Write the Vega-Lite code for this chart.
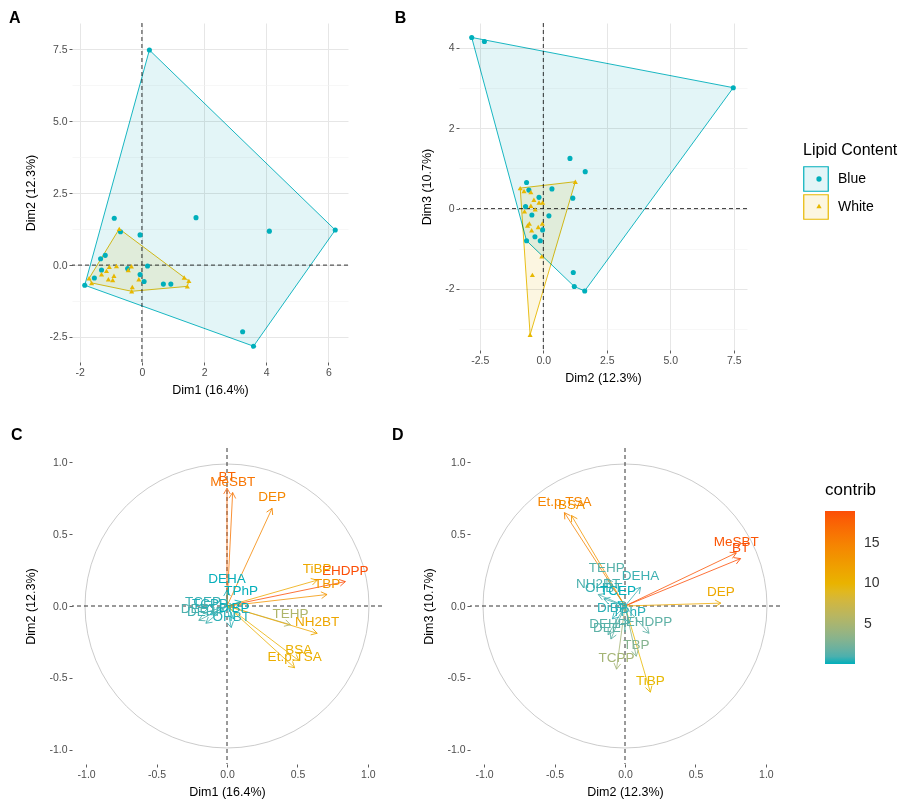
{
  "$schema": "https://vega.github.io/schema/vega-lite/v6.json",
  "background": "white",
  "padding": {"left": 8, "top": 9, "right": 2, "bottom": 2},
  "config": {
    "font": "Liberation Sans",
    "view": {"stroke": null},
    "axis": {"domain": false, "labelColor": "#4D4D4D", "labelFontSize": 10.5, "tickColor": "#333333", "tickSize": 3, "tickWidth": 0.8, "titleFontWeight": "normal", "titleFontSize": 12.5, "titleColor": "#000000", "labelPadding": 2, "titlePadding": 6},
    "axisY": {"titlePadding": 11},
    "title": {"fontSize": 16, "fontWeight": "bold", "anchor": "start", "frame": "bounds", "color": "#000000"},
    "legend": {"titleFontWeight": "normal", "titleColor": "#000000", "labelColor": "#000000"}
  },
  "datasets": {
    "ind": [
      {"id": "b1", "grp": "Blue", "d1": 0.24, "d2": 7.48, "d3": 3.01, "hA": 2, "hB": 2},
      {"id": "b2", "grp": "Blue", "d1": 3.59, "d2": -2.82, "d3": 4.26, "hA": 4, "hB": 1},
      {"id": "b3", "grp": "Blue", "d1": 3.24, "d2": -2.32, "d3": 4.16},
      {"id": "b4", "grp": "Blue", "d1": 1.74, "d2": 1.65, "d3": 0.92},
      {"id": "b5", "grp": "Blue", "d1": -0.89, "d2": 1.63, "d3": -2.05, "hB": 3},
      {"id": "b6", "grp": "Blue", "d1": 6.22, "d2": 1.22, "d3": -1.94, "hA": 3, "hB": 4},
      {"id": "b7", "grp": "Blue", "d1": 4.10, "d2": 1.18, "d3": -1.59},
      {"id": "b8", "grp": "Blue", "d1": -0.69, "d2": 1.16, "d3": 0.26},
      {"id": "b9", "grp": "Blue", "d1": -0.06, "d2": 1.05, "d3": 1.25},
      {"id": "b10", "grp": "Blue", "d1": -1.18, "d2": 0.34, "d3": 0.49},
      {"id": "b11", "grp": "Blue", "d1": -1.33, "d2": 0.22, "d3": -0.18},
      {"id": "b12", "grp": "Blue", "d1": 0.18, "d2": -0.03, "d3": -0.53},
      {"id": "b13", "grp": "Blue", "d1": -0.46, "d2": -0.12, "d3": -0.80},
      {"id": "b14", "grp": "Blue", "d1": -1.30, "d2": -0.17, "d3": 0.28},
      {"id": "b15", "grp": "Blue", "d1": -0.06, "d2": -0.33, "d3": -0.70},
      {"id": "b16", "grp": "Blue", "d1": -1.53, "d2": -0.45, "d3": -0.16},
      {"id": "b17", "grp": "Blue", "d1": 0.07, "d2": -0.57, "d3": 0.46},
      {"id": "b18", "grp": "Blue", "d1": 0.69, "d2": -0.66, "d3": 0.65},
      {"id": "b19", "grp": "Blue", "d1": 0.93, "d2": -0.66, "d3": -0.80, "hB": 5},
      {"id": "b20", "grp": "Blue", "d1": -1.84, "d2": -0.70, "d3": 0.05, "hA": 1},
      {"id": "w1", "grp": "White", "d1": -0.73, "d2": 1.26, "d3": 0.67, "hA": 1, "hB": 2},
      {"id": "w2", "grp": "White", "d1": -0.82, "d2": -0.03, "d3": 0.15},
      {"id": "w3", "grp": "White", "d1": -0.34, "d2": -0.04, "d3": -0.37},
      {"id": "w4", "grp": "White", "d1": -1.05, "d2": -0.06, "d3": -1.19},
      {"id": "w5", "grp": "White", "d1": -0.44, "d2": -0.17, "d3": 0.15},
      {"id": "w6", "grp": "White", "d1": -1.14, "d2": -0.20, "d3": -0.46},
      {"id": "w7", "grp": "White", "d1": -1.30, "d2": -0.32, "d3": -0.02},
      {"id": "w8", "grp": "White", "d1": -0.90, "d2": -0.37, "d3": 0.22},
      {"id": "w9", "grp": "White", "d1": 1.36, "d2": -0.43, "d3": -1.65},
      {"id": "w10", "grp": "White", "d1": -1.70, "d2": -0.46, "d3": -0.54, "hA": 6},
      {"id": "w11", "grp": "White", "d1": -1.08, "d2": -0.49, "d3": 0.41},
      {"id": "w12", "grp": "White", "d1": -0.10, "d2": -0.49, "d3": 0.07},
      {"id": "w13", "grp": "White", "d1": -0.94, "d2": -0.52, "d3": -3.14, "hB": 3},
      {"id": "w14", "grp": "White", "d1": 1.51, "d2": -0.55, "d3": -0.37, "hA": 2},
      {"id": "w15", "grp": "White", "d1": -1.62, "d2": -0.62, "d3": -0.42, "hA": 5},
      {"id": "w16", "grp": "White", "d1": 1.46, "d2": -0.74, "d3": -0.07, "hA": 3},
      {"id": "w17", "grp": "White", "d1": -0.31, "d2": -0.76, "d3": 0.44},
      {"id": "w18", "grp": "White", "d1": -0.33, "d2": -0.91, "d3": 0.51, "hA": 4, "hB": 1}
    ],
    "vars": [
      {"name": "BT", "d1": 0.00, "d2": 0.82, "d3": 0.33, "cC": 13.0, "cD": 18.9},
      {"name": "MeSBT", "d1": 0.04, "d2": 0.79, "d3": 0.37, "cC": 12.1, "cD": 18.4},
      {"name": "DEP", "d1": 0.32, "d2": 0.68, "d3": 0.02, "cC": 10.9, "cD": 11.2},
      {"name": "EHDPP", "d1": 0.84, "d2": 0.17, "d3": -0.19, "cC": 14.2, "cD": 1.57},
      {"name": "TiBP", "d1": 0.64, "d2": 0.18, "d3": -0.60, "cC": 8.5, "cD": 9.5},
      {"name": "TBP", "d1": 0.71, "d2": 0.08, "d3": -0.35, "cC": 9.9, "cD": 3.1},
      {"name": "TEHP", "d1": 0.45, "d2": -0.13, "d3": 0.19, "cC": 4.2, "cD": 1.28},
      {"name": "NH2BT", "d1": 0.64, "d2": -0.19, "d3": 0.08, "cC": 8.6, "cD": 1.03},
      {"name": "BSA", "d1": 0.51, "d2": -0.38, "d3": 0.63, "cC": 7.8, "cD": 13.1},
      {"name": "Et.p.TSA", "d1": 0.48, "d2": -0.43, "d3": 0.65, "cC": 8.0, "cD": 14.7},
      {"name": "DEHA", "d1": 0.00, "d2": 0.11, "d3": 0.13, "cC": 0.23, "cD": 0.70},
      {"name": "OHBT", "d1": 0.03, "d2": -0.15, "d3": 0.05, "cC": 0.45, "cD": 0.60},
      {"name": "TCEP", "d1": -0.17, "d2": -0.05, "d3": 0.03, "cC": 0.61, "cD": 0.08},
      {"name": "DEET", "d1": -0.20, "d2": -0.10, "d3": -0.23, "cC": 0.97, "cD": 1.52},
      {"name": "DEHP", "d1": -0.15, "d2": -0.12, "d3": -0.20, "cC": 0.71, "cD": 1.31},
      {"name": "DiBP", "d1": 0.05, "d2": -0.09, "d3": -0.09, "cC": 0.21, "cD": 0.39},
      {"name": "TPhP", "d1": 0.10, "d2": 0.03, "d3": -0.12, "cC": 0.22, "cD": 0.37},
      {"name": "TCPP", "d1": -0.12, "d2": -0.06, "d3": -0.44, "cC": 0.35, "cD": 4.76}
    ]
  },
  "spacing": 30,
  "resolve": {"scale": {"color": "independent", "fill": "independent", "stroke": "independent", "shape": "independent"}, "legend": {"color": "independent", "fill": "independent", "stroke": "independent", "shape": "independent"}},
  "vconcat": [
    {
      "spacing": 45,
      "resolve": {"scale": {"color": "independent", "fill": "independent", "stroke": "independent", "shape": "independent"}, "legend": {"color": "independent", "fill": "independent", "stroke": "independent", "shape": "independent"}},
      "hconcat": [
        {
          "width": 276, "height": 339,
          "title": {"text": "A", "offset": -3, "dx": -16},
          "layer": [
            {
              "data": {"name": "ind"},
              "transform": [{"filter": "isValid(datum.hA)"}],
              "mark": {"type": "line", "interpolate": "linear-closed", "strokeWidth": 0.9, "blend": "multiply"},
              "encoding": {
                "x": {"field": "d1", "type": "quantitative", "title": "Dim1 (16.4%)", "scale": {"domain": [-2.25, 6.63], "nice": false, "zero": false},
                  "axis": {"values": [-2, -1, 0, 1, 2, 3, 4, 5, 6], "labelExpr": "abs(datum.value % 2) < 0.001 ? replace(format(datum.value, 'd'), '\u2212', '-') : ''",
                    "gridColor": {"condition": {"test": "abs(datum.value % 2) < 0.001", "value": "#E6E6E6"}, "value": "#F1F1F1"},
                    "gridWidth": {"condition": {"test": "abs(datum.value % 2) < 0.001", "value": 1}, "value": 0.6},
                    "tickOpacity": {"condition": {"test": "abs(datum.value % 2) < 0.001", "value": 1}, "value": 0}}},
                "y": {"field": "d2", "type": "quantitative", "title": "Dim2 (12.3%)", "scale": {"domain": [-3.37, 8.42], "nice": false, "zero": false},
                  "axis": {"values": [-2.5, -1.25, 0, 1.25, 2.5, 3.75, 5, 6.25, 7.5], "labelExpr": "abs(datum.value % 2.5) < 0.001 ? replace(format(datum.value, '.1f'), '\u2212', '-') : ''",
                    "gridColor": {"condition": {"test": "abs(datum.value % 2.5) < 0.001", "value": "#E6E6E6"}, "value": "#F1F1F1"},
                    "gridWidth": {"condition": {"test": "abs(datum.value % 2.5) < 0.001", "value": 1}, "value": 0.6},
                    "tickOpacity": {"condition": {"test": "abs(datum.value % 2.5) < 0.001", "value": 1}, "value": 0}}},
                "order": {"field": "hA", "type": "quantitative"},
                "stroke": {"field": "grp", "type": "nominal", "scale": {"range": ["#00AFBB", "#E7B800"]}, "legend": null},
                "fill": {"field": "grp", "type": "nominal", "scale": {"range": ["#E3F5F7", "#FCF6E1"]}, "legend": null}
              }
            },
            {
              "data": {"values": [{}]},
              "mark": {"type": "rule", "strokeDash": [4, 3], "color": "#000000", "strokeWidth": 0.8},
              "encoding": {"x": {"datum": 0, "type": "quantitative", "scale": {"domain": [-2.25, 6.63], "nice": false, "zero": false}}}
            },
            {
              "data": {"values": [{}]},
              "mark": {"type": "rule", "strokeDash": [4, 3], "color": "#000000", "strokeWidth": 0.8},
              "encoding": {"y": {"datum": 0, "type": "quantitative", "scale": {"domain": [-3.37, 8.42], "nice": false, "zero": false}}}
            },
            {
              "data": {"name": "ind"},
              "mark": {"type": "point", "filled": true, "size": 26, "opacity": 1},
              "encoding": {
                "x": {"field": "d1", "type": "quantitative", "title": "Dim1 (16.4%)", "scale": {"domain": [-2.25, 6.63], "nice": false, "zero": false}},
                "y": {"field": "d2", "type": "quantitative", "title": "Dim2 (12.3%)", "scale": {"domain": [-3.37, 8.42], "nice": false, "zero": false}},
                "color": {"field": "grp", "type": "nominal", "scale": {"domain": ["Blue", "White"], "range": ["#00AFBB", "#E7B800"]}, "legend": null},
                "shape": {"field": "grp", "type": "nominal", "scale": {"domain": ["Blue", "White"], "range": ["circle", "triangle-up"]}, "legend": null}
              }
            }
          ]
        },
        {
          "width": 288, "height": 327,
          "title": {"text": "B", "offset": -3, "dx": -26},
          "layer": [
            {
              "data": {"name": "ind"},
              "transform": [{"filter": "isValid(datum.hB)"}],
              "mark": {"type": "line", "interpolate": "linear-closed", "strokeWidth": 0.9, "blend": "multiply"},
              "encoding": {
                "x": {"field": "d2", "type": "quantitative", "title": "Dim2 (12.3%)", "scale": {"domain": [-3.32, 8.02], "nice": false, "zero": false},
                  "axis": {"values": [-2.5, -1.25, 0, 1.25, 2.5, 3.75, 5, 6.25, 7.5], "labelExpr": "abs(datum.value % 2.5) < 0.001 ? replace(format(datum.value, '.1f'), '\u2212', '-') : ''",
                    "gridColor": {"condition": {"test": "abs(datum.value % 2.5) < 0.001", "value": "#E6E6E6"}, "value": "#F1F1F1"},
                    "gridWidth": {"condition": {"test": "abs(datum.value % 2.5) < 0.001", "value": 1}, "value": 0.6},
                    "tickOpacity": {"condition": {"test": "abs(datum.value % 2.5) < 0.001", "value": 1}, "value": 0}}},
                "y": {"field": "d3", "type": "quantitative", "title": "Dim3 (10.7%)", "scale": {"domain": [-3.52, 4.62], "nice": false, "zero": false},
                  "axis": {"values": [-3, -2, -1, 0, 1, 2, 3, 4], "labelExpr": "abs(datum.value % 2) < 0.001 ? replace(format(datum.value, 'd'), '\u2212', '-') : ''",
                    "gridColor": {"condition": {"test": "abs(datum.value % 2) < 0.001", "value": "#E6E6E6"}, "value": "#F1F1F1"},
                    "gridWidth": {"condition": {"test": "abs(datum.value % 2) < 0.001", "value": 1}, "value": 0.6},
                    "tickOpacity": {"condition": {"test": "abs(datum.value % 2) < 0.001", "value": 1}, "value": 0}}},
                "order": {"field": "hB", "type": "quantitative"},
                "stroke": {"field": "grp", "type": "nominal", "scale": {"range": ["#00AFBB", "#E7B800"]},
                  "legend": {"title": "Lipid Content", "orient": "none", "legendX": 344, "legendY": 119, "padding": 0, "symbolType": "square", "symbolSize": 600, "symbolStrokeWidth": 1.2, "titleFontSize": 16, "labelFontSize": 14, "titlePadding": 8, "rowPadding": -4, "labelOffset": 9}},
                "fill": {"field": "grp", "type": "nominal", "scale": {"range": ["#E3F5F7", "#FCF6E1"]},
                  "legend": {"title": "Lipid Content", "orient": "none", "legendX": 344, "legendY": 119, "padding": 0, "symbolType": "square", "symbolSize": 600, "symbolStrokeWidth": 1.2, "titleFontSize": 16, "labelFontSize": 14, "titlePadding": 8, "rowPadding": -4, "labelOffset": 9}}
              }
            },
            {
              "data": {"values": [{}]},
              "mark": {"type": "rule", "strokeDash": [4, 3], "color": "#000000", "strokeWidth": 0.8},
              "encoding": {"x": {"datum": 0, "type": "quantitative", "scale": {"domain": [-3.32, 8.02], "nice": false, "zero": false}}}
            },
            {
              "data": {"values": [{}]},
              "mark": {"type": "rule", "strokeDash": [4, 3], "color": "#000000", "strokeWidth": 0.8},
              "encoding": {"y": {"datum": 0, "type": "quantitative", "scale": {"domain": [-3.52, 4.62], "nice": false, "zero": false}}}
            },
            {
              "data": {"name": "ind"},
              "mark": {"type": "point", "filled": true, "size": 26, "opacity": 1},
              "encoding": {
                "x": {"field": "d2", "type": "quantitative", "title": "Dim2 (12.3%)", "scale": {"domain": [-3.32, 8.02], "nice": false, "zero": false}},
                "y": {"field": "d3", "type": "quantitative", "title": "Dim3 (10.7%)", "scale": {"domain": [-3.52, 4.62], "nice": false, "zero": false}},
                "color": {"field": "grp", "type": "nominal", "scale": {"domain": ["Blue", "White"], "range": ["#00AFBB", "#E7B800"]},
                  "legend": {"title": "Lipid Content", "orient": "none", "legendX": 353, "legendY": 119, "padding": 0, "symbolSize": 28, "titleOpacity": 0, "labelOpacity": 0, "titleFontSize": 16, "labelFontSize": 14, "titlePadding": 14, "rowPadding": 13}},
                "shape": {"field": "grp", "type": "nominal", "scale": {"domain": ["Blue", "White"], "range": ["circle", "triangle-up"]},
                  "legend": {"title": "Lipid Content", "orient": "none", "legendX": 353, "legendY": 119, "padding": 0, "symbolSize": 28, "titleOpacity": 0, "labelOpacity": 0, "titleFontSize": 16, "labelFontSize": 14, "titlePadding": 14, "rowPadding": 13}}
              }
            }
          ]
        }
      ]
    },
    {
      "spacing": 8,
      "resolve": {"scale": {"color": "independent", "fill": "independent", "stroke": "independent", "shape": "independent"}, "legend": {"color": "independent", "fill": "independent", "stroke": "independent", "shape": "independent"}},
      "hconcat": [
        {
          "width": 310, "height": 316,
          "title": {"text": "C", "offset": 5, "dx": -14},
          "layer": [
            {
              "data": {"values": [{}]},
              "mark": {"type": "point", "shape": "circle", "size": 80656, "filled": false, "stroke": "#BEBEBE", "strokeWidth": 0.8, "opacity": 1},
              "encoding": {
                "x": {"datum": 0, "type": "quantitative", "scale": {"domain": [-1.1, 1.1], "nice": false, "zero": false}},
                "y": {"datum": 0, "type": "quantitative", "scale": {"domain": [-1.1, 1.1], "nice": false, "zero": false}}
              }
            },
            {
              "data": {"values": [{}]},
              "mark": {"type": "rule", "strokeDash": [4, 3], "color": "#000000", "strokeWidth": 0.8},
              "encoding": {"x": {"datum": 0, "type": "quantitative", "scale": {"domain": [-1.1, 1.1], "nice": false, "zero": false}}}
            },
            {
              "data": {"values": [{}]},
              "mark": {"type": "rule", "strokeDash": [4, 3], "color": "#000000", "strokeWidth": 0.8},
              "encoding": {"y": {"datum": 0, "type": "quantitative", "scale": {"domain": [-1.1, 1.1], "nice": false, "zero": false}}}
            },
            {
              "data": {"name": "vars"},
              "mark": {"type": "rule", "strokeWidth": 0.8},
              "encoding": {
                "x": {"field": "d1", "type": "quantitative", "title": "Dim1 (16.4%)", "scale": {"domain": [-1.1, 1.1], "nice": false, "zero": false},
                  "axis": {"values": [-1, -0.75, -0.5, -0.25, 0, 0.25, 0.5, 0.75, 1], "labelExpr": "abs(datum.value % 0.5) < 0.001 ? replace(format(datum.value, '.1f'), '\u2212', '-') : ''",
                    "gridColor": {"condition": {"test": "abs(datum.value % 0.5) < 0.001", "value": "#E6E6E6"}, "value": "#F1F1F1"},
                    "gridWidth": {"condition": {"test": "abs(datum.value % 0.5) < 0.001", "value": 1}, "value": 0.6},
                    "tickOpacity": {"condition": {"test": "abs(datum.value % 0.5) < 0.001", "value": 1}, "value": 0}}},
                "y": {"field": "d2", "type": "quantitative", "title": "Dim2 (12.3%)", "scale": {"domain": [-1.1, 1.1], "nice": false, "zero": false},
                  "axis": {"values": [-1, -0.75, -0.5, -0.25, 0, 0.25, 0.5, 0.75, 1], "labelExpr": "abs(datum.value % 0.5) < 0.001 ? replace(format(datum.value, '.1f'), '\u2212', '-') : ''",
                    "gridColor": {"condition": {"test": "abs(datum.value % 0.5) < 0.001", "value": "#E6E6E6"}, "value": "#F1F1F1"},
                    "gridWidth": {"condition": {"test": "abs(datum.value % 0.5) < 0.001", "value": 1}, "value": 0.6},
                    "tickOpacity": {"condition": {"test": "abs(datum.value % 0.5) < 0.001", "value": 1}, "value": 0}}},
                "x2": {"datum": 0},
                "y2": {"datum": 0},
                "color": {"field": "cC", "type": "quantitative", "scale": {"domain": [0.21, 7.2, 14.2], "range": ["#00AFBB", "#E7B800", "#FC4E07"], "interpolate": "lab"}, "legend": null}
              }
            },
            {
              "data": {"name": "vars"},
              "transform": [{"calculate": "90 - atan2(datum.d2, datum.d1) * 180 / PI", "as": "ang"}],
              "mark": {"type": "point", "shape": "M-0.5,0.866L0,0L0.5,0.866", "size": 180, "filled": false, "strokeWidth": 0.8, "opacity": 1},
              "encoding": {
                "x": {"field": "d1", "type": "quantitative", "title": "Dim1 (16.4%)", "scale": {"domain": [-1.1, 1.1], "nice": false, "zero": false}},
                "y": {"field": "d2", "type": "quantitative", "title": "Dim2 (12.3%)", "scale": {"domain": [-1.1, 1.1], "nice": false, "zero": false}},
                "angle": {"field": "ang", "type": "quantitative", "scale": null},
                "color": {"field": "cC", "type": "quantitative", "scale": {"domain": [0.21, 7.2, 14.2], "range": ["#00AFBB", "#E7B800", "#FC4E07"], "interpolate": "lab"}, "legend": null}
              }
            },
            {
              "data": {"name": "vars"},
              "mark": {"type": "text", "dy": -11, "fontSize": 13.5},
              "encoding": {
                "x": {"field": "d1", "type": "quantitative", "title": "Dim1 (16.4%)", "scale": {"domain": [-1.1, 1.1], "nice": false, "zero": false}},
                "y": {"field": "d2", "type": "quantitative", "title": "Dim2 (12.3%)", "scale": {"domain": [-1.1, 1.1], "nice": false, "zero": false}},
                "text": {"field": "name"},
                "color": {"field": "cC", "type": "quantitative", "scale": {"domain": [0.21, 7.2, 14.2], "range": ["#00AFBB", "#E7B800", "#FC4E07"], "interpolate": "lab"}, "legend": null}
              }
            }
          ]
        },
        {
          "width": 310, "height": 316,
          "title": {"text": "D", "offset": 5, "dx": -31},
          "layer": [
            {
              "data": {"values": [{}]},
              "mark": {"type": "point", "shape": "circle", "size": 80656, "filled": false, "stroke": "#BEBEBE", "strokeWidth": 0.8, "opacity": 1},
              "encoding": {
                "x": {"datum": 0, "type": "quantitative", "scale": {"domain": [-1.1, 1.1], "nice": false, "zero": false}},
                "y": {"datum": 0, "type": "quantitative", "scale": {"domain": [-1.1, 1.1], "nice": false, "zero": false}}
              }
            },
            {
              "data": {"values": [{}]},
              "mark": {"type": "rule", "strokeDash": [4, 3], "color": "#000000", "strokeWidth": 0.8},
              "encoding": {"x": {"datum": 0, "type": "quantitative", "scale": {"domain": [-1.1, 1.1], "nice": false, "zero": false}}}
            },
            {
              "data": {"values": [{}]},
              "mark": {"type": "rule", "strokeDash": [4, 3], "color": "#000000", "strokeWidth": 0.8},
              "encoding": {"y": {"datum": 0, "type": "quantitative", "scale": {"domain": [-1.1, 1.1], "nice": false, "zero": false}}}
            },
            {
              "data": {"name": "vars"},
              "mark": {"type": "rule", "strokeWidth": 0.8},
              "encoding": {
                "x": {"field": "d2", "type": "quantitative", "title": "Dim2 (12.3%)", "scale": {"domain": [-1.1, 1.1], "nice": false, "zero": false},
                  "axis": {"values": [-1, -0.75, -0.5, -0.25, 0, 0.25, 0.5, 0.75, 1], "labelExpr": "abs(datum.value % 0.5) < 0.001 ? replace(format(datum.value, '.1f'), '\u2212', '-') : ''",
                    "gridColor": {"condition": {"test": "abs(datum.value % 0.5) < 0.001", "value": "#E6E6E6"}, "value": "#F1F1F1"},
                    "gridWidth": {"condition": {"test": "abs(datum.value % 0.5) < 0.001", "value": 1}, "value": 0.6},
                    "tickOpacity": {"condition": {"test": "abs(datum.value % 0.5) < 0.001", "value": 1}, "value": 0}}},
                "y": {"field": "d3", "type": "quantitative", "title": "Dim3 (10.7%)", "scale": {"domain": [-1.1, 1.1], "nice": false, "zero": false},
                  "axis": {"values": [-1, -0.75, -0.5, -0.25, 0, 0.25, 0.5, 0.75, 1], "labelExpr": "abs(datum.value % 0.5) < 0.001 ? replace(format(datum.value, '.1f'), '\u2212', '-') : ''",
                    "gridColor": {"condition": {"test": "abs(datum.value % 0.5) < 0.001", "value": "#E6E6E6"}, "value": "#F1F1F1"},
                    "gridWidth": {"condition": {"test": "abs(datum.value % 0.5) < 0.001", "value": 1}, "value": 0.6},
                    "tickOpacity": {"condition": {"test": "abs(datum.value % 0.5) < 0.001", "value": 1}, "value": 0}}},
                "x2": {"datum": 0},
                "y2": {"datum": 0},
                "stroke": {"field": "cD", "type": "quantitative", "scale": {"domain": [0.08, 9.49, 18.9], "range": ["#00AFBB", "#E7B800", "#FC4E07"], "interpolate": "lab"},
                  "legend": {"type": "gradient", "title": "contrib", "orient": "none", "legendX": 355, "legendY": 34, "direction": "vertical", "padding": 0, "gradientLength": 153, "gradientThickness": 30, "gradientStrokeWidth": 0, "values": [5, 10, 15], "titleFontSize": 17, "labelFontSize": 14, "labelColor": "#333333", "labelOffset": 9, "titlePadding": 12}}
              }
            },
            {
              "data": {"name": "vars"},
              "transform": [{"calculate": "90 - atan2(datum.d3, datum.d2) * 180 / PI", "as": "ang"}],
              "mark": {"type": "point", "shape": "M-0.5,0.866L0,0L0.5,0.866", "size": 180, "filled": false, "strokeWidth": 0.8, "opacity": 1},
              "encoding": {
                "x": {"field": "d2", "type": "quantitative", "title": "Dim2 (12.3%)", "scale": {"domain": [-1.1, 1.1], "nice": false, "zero": false}},
                "y": {"field": "d3", "type": "quantitative", "title": "Dim3 (10.7%)", "scale": {"domain": [-1.1, 1.1], "nice": false, "zero": false}},
                "angle": {"field": "ang", "type": "quantitative", "scale": null},
                "stroke": {"field": "cD", "type": "quantitative", "scale": {"domain": [0.08, 9.49, 18.9], "range": ["#00AFBB", "#E7B800", "#FC4E07"], "interpolate": "lab"}}
              }
            },
            {
              "data": {"name": "vars"},
              "mark": {"type": "text", "dy": -11, "fontSize": 13.5},
              "encoding": {
                "x": {"field": "d2", "type": "quantitative", "title": "Dim2 (12.3%)", "scale": {"domain": [-1.1, 1.1], "nice": false, "zero": false}},
                "y": {"field": "d3", "type": "quantitative", "title": "Dim3 (10.7%)", "scale": {"domain": [-1.1, 1.1], "nice": false, "zero": false}},
                "text": {"field": "name"},
                "color": {"field": "cD", "type": "quantitative", "scale": {"domain": [0.0801, 9.49, 18.9], "range": ["#00AFBB", "#E7B800", "#FC4E07"], "interpolate": "lab"}, "legend": null}
              }
            }
          ]
        }
      ]
    }
  ]
}
